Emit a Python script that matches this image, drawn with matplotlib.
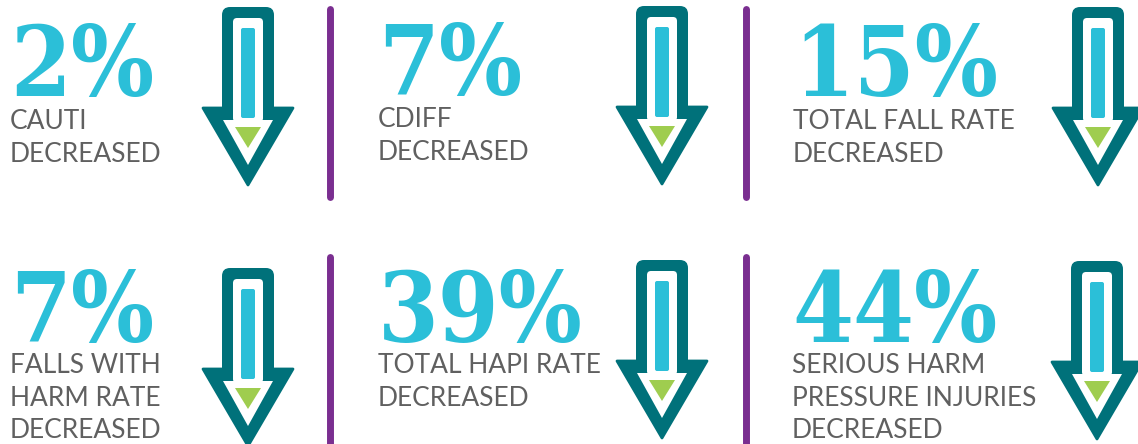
import matplotlib
matplotlib.use('Agg')
import matplotlib.pyplot as plt
from matplotlib.patches import FancyBboxPatch, Polygon

# values shown on the infographic
pct_values = [2, 7, 15, 7, 39, 44]
labels = [
    ['CAUTI', 'DECREASED'],
    ['CDIFF', 'DECREASED'],
    ['TOTAL FALL RATE', 'DECREASED'],
    ['FALLS WITH', 'HARM RATE', 'DECREASED'],
    ['TOTAL HAPI RATE', 'DECREASED'],
    ['SERIOUS HARM', 'PRESSURE INJURIES', 'DECREASED'],
]

# layout (pixels)
text_x = [10, 378, 793, 10, 378, 792]
num_base = [96, 95, 96, 342, 342, 342]
lab_base = [129, 127, 129, 373, 373, 373]
arrow_cx = [248, 662, 1098, 248, 662, 1097]
arrow_top = [7, 6, 7, 268, 260, 261]

CYAN = '#2bbfd8'
TEAL = '#00717a'
GREEN = '#9fcd4f'
PURPLE = '#7a2e90'
GREY = '#606060'


def draw_arrow(ax, cx, top):
    ax.add_patch(FancyBboxPatch((cx - 26, top), 52, 110,
                                boxstyle='round,pad=0,rounding_size=8',
                                fc=TEAL, ec='none'))
    ax.add_patch(Polygon([(cx - 45, top + 101), (cx + 45, top + 101), (cx, top + 178)],
                         closed=True, fc=TEAL, ec=TEAL, lw=2, joinstyle='round'))
    ax.add_patch(FancyBboxPatch((cx - 15, top + 11), 30, 104,
                                boxstyle='round,pad=0,rounding_size=4',
                                fc='white', ec='none'))
    ax.add_patch(Polygon([(cx - 25, top + 113), (cx + 25, top + 113), (cx, top + 158)],
                         closed=True, fc='white', ec='none'))
    ax.add_patch(FancyBboxPatch((cx - 7, top + 21), 14, 90,
                                boxstyle='round,pad=0,rounding_size=2',
                                fc=CYAN, ec='none'))
    ax.add_patch(Polygon([(cx - 13, top + 120), (cx + 13, top + 120), (cx, top + 141)],
                         closed=True, fc=GREEN, ec='none'))


fig = plt.figure(figsize=(11.38, 4.44), dpi=100)
ax = fig.add_axes([0, 0, 1, 1])
ax.set_xlim(0, 1138)
ax.set_ylim(444, 0)
ax.axis('off')

for i, val in enumerate(pct_values):
    ax.text(text_x[i], num_base[i], '%d%%' % val, color=CYAN, fontsize=70,
            fontweight='bold', family='DejaVu Serif', fontstretch='condensed',
            ha='left', va='baseline')
    for j, line in enumerate(labels[i]):
        ax.text(text_x[i], lab_base[i] + j * 32.5, line, color=GREY, fontsize=19,
                family='Lato', fontweight='normal', ha='left', va='baseline')
    draw_arrow(ax, arrow_cx[i], arrow_top[i])

# purple dividers
for x in [330, 746]:
    ax.plot([x, x], [9, 197], color=PURPLE, lw=5, solid_capstyle='round')
    ax.plot([x, x], [257, 450], color=PURPLE, lw=5, solid_capstyle='round')

fig.savefig('out.png', dpi=100)
